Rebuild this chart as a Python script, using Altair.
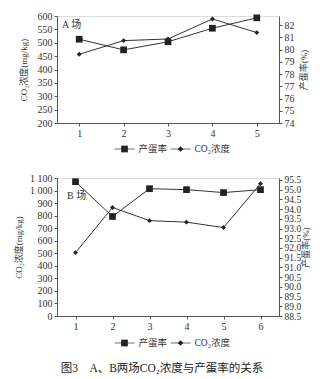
import altair as alt
import pandas as pd

FONT = "Liberation Serif, Noto Sans CJK SC"
INK = "#333333"
AX = "#555555"

# ---- data ----
series_names = ["产蛋率", "CO₂浓度"]

a_x = [1, 2, 3, 4, 5]
a_rate = [80.85, 79.98, 80.64, 81.75, 82.6]
a_co2 = [457, 508, 514, 589, 538]

b_x = [1, 2, 3, 4, 5, 6]
b_rate = [95.41, 93.62, 95.05, 95.0, 94.85, 95.0]
b_co2 = [505, 865, 760, 748, 705, 1055]

a_co2_ticks = [200, 250, 300, 350, 400, 450, 500, 550, 600]
a_rate_ticks = [74, 75, 76, 77, 78, 79, 80, 81, 82]
b_co2_ticks = [0, 100, 200, 300, 400, 500, 600, 700, 800, 900, 1000, 1100]
b_rate_ticks = [88.5, 89.0, 89.5, 90.0, 90.5, 91.0, 91.5, 92.0, 92.5, 93.0, 93.5, 94.0, 94.5, 95.0, 95.5]

caption = "图3　A、B两场CO₂浓度与产蛋率的关系"


def axis_common(**kw):
    base = dict(grid=False, domainColor=AX, tickColor=AX, tickSize=3,
                labelFont=FONT, labelFontSize=10, labelColor=INK,
                titleFont=FONT, titleFontSize=9, titleColor=INK,
                titleFontWeight="normal", labelPadding=2, labelOverlap=False)
    base.update(kw)
    return alt.Axis(**base)


def panel(xs, rate, co2, tag, xdom, co2_dom, co2_ticks, rate_dom, rate_ticks,
          rate_fmt, rate_fs, w, h, legend_y, tag_x, tag_y, left_title_x, right_title_x, co2_expr=None):
    df = pd.DataFrame({"x": xs, "rate": rate, "co2": co2})
    xscale = alt.Scale(domain=xdom, nice=False, zero=False)
    x_ax = alt.X("x:Q", scale=xscale, axis=axis_common(values=xs, title=None, format="d"))
    x_no = alt.X("x:Q", scale=xscale, axis=None)

    left_kw = dict(orient="left", values=co2_ticks, title="CO₂浓度(mg/kg)",
                   titleX=left_title_x, titleY=h / 2, titleAngle=270)
    if co2_expr:
        left_kw["labelExpr"] = co2_expr
    co2_scale = alt.Scale(domain=co2_dom, nice=False, zero=False)
    rate_scale = alt.Scale(domain=rate_dom, nice=False, zero=False)

    base = alt.Chart(df)
    rate_line = base.mark_line(color=INK, strokeWidth=1).encode(
        x=x_ax,
        y=alt.Y("rate:Q", scale=rate_scale,
                axis=axis_common(orient="right", values=rate_ticks, format=rate_fmt,
                                 labelFontSize=rate_fs,
                                 title="产蛋率(%)", titleAngle=270,
                                 titleX=right_title_x, titleY=h / 2)),
    )
    rate_pts = base.mark_point(shape="square", filled=True, size=45, color="#222222", opacity=1).encode(
        x=x_no, y=alt.Y("rate:Q", scale=rate_scale, axis=None))
    co2_line = base.mark_line(color=INK, strokeWidth=1).encode(
        x=x_no, y=alt.Y("co2:Q", scale=co2_scale, axis=axis_common(**left_kw)))
    co2_pts = base.mark_point(shape="diamond", filled=True, size=24, color="#222222", opacity=1).encode(
        x=x_no, y=alt.Y("co2:Q", scale=co2_scale, axis=None))

    leg = alt.Chart(pd.DataFrame({"name": series_names}))
    lx = alt.X("name:N", scale=alt.Scale(type="point", domain=series_names, range=[67.5, 123.5], padding=0),
               axis=None)
    ly = alt.value(legend_y)
    leg_line = leg.mark_tick(orient="horizontal", size=20, thickness=1, color=INK).encode(x=lx, y=ly)
    leg_pt = leg.mark_point(filled=True, color="#222222", opacity=1).encode(
        x=lx, y=ly,
        shape=alt.Shape("name:N", scale=alt.Scale(domain=series_names, range=["square", "diamond"]), legend=None),
        size=alt.Size("name:N", scale=alt.Scale(domain=series_names, range=[45, 32]), legend=None),
    )
    leg_txt = leg.mark_text(align="left", baseline="middle", dx=14, font=FONT, fontSize=9.5,
                            color=INK).encode(x=lx, y=ly, text="name:N")

    tag_layer = alt.Chart(pd.DataFrame({"t": [tag]})).mark_text(
        align="left", baseline="middle", font=FONT, fontSize=10, color=INK
    ).encode(x=alt.value(tag_x), y=alt.value(tag_y), text="t:N")

    return alt.layer(rate_line, rate_pts, co2_line, co2_pts, leg_line, leg_pt, leg_txt, tag_layer).resolve_scale(
        x="independent", y="independent"
    ).properties(width=w, height=h)


lab_expr = "datum.value >= 1000 ? floor(datum.value / 1000) + ' ' + format(datum.value % 1000, '03d') : datum.label"

chart_a = panel(a_x, a_rate, a_co2, "A 场", [0.5, 5.5], [200, 600], a_co2_ticks,
                [74, 82.75], a_rate_ticks, "d", 10, 222, 107, 133, 5, 9, -29, 29)
chart_b = panel(b_x, b_rate, b_co2, "B 场", [0.5, 6.5], [0, 1100], b_co2_ticks,
                [88.5, 95.6], b_rate_ticks, ".1f", 9.5, 222, 138, 165, 10, 18, -34, 31, co2_expr=lab_expr)

chart = alt.vconcat(chart_a, chart_b, spacing=18).properties(
    title=alt.TitleParams(text=caption, orient="bottom", anchor="middle", font=FONT,
                          fontSize=11.5, fontWeight="normal", color="#222222", offset=15),
    padding={"left": 13, "top": 10, "right": 5, "bottom": 2},
).configure_view(stroke=None).configure(background="white")

chart.save("out.html", embed_options={"renderer": "svg", "actions": False})
